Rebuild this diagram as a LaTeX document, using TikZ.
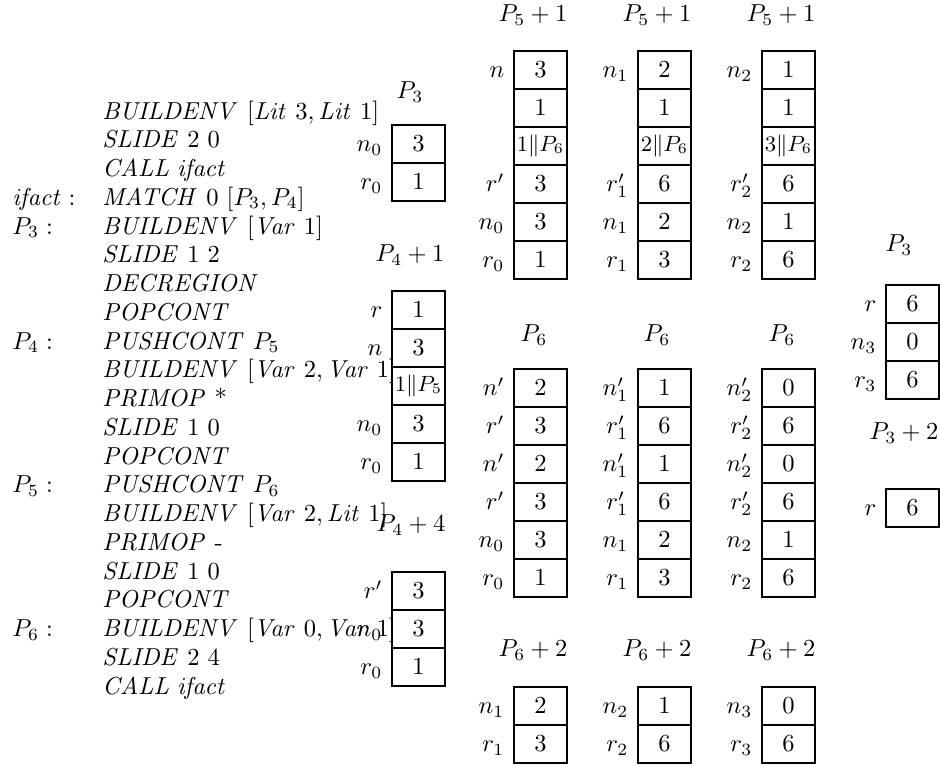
\documentclass[tikz,border=0pt]{standalone}
\usepackage{amsmath}

\tikzset{
  x=0.408pt, y=-0.408pt,
  cell/.style={draw, line width=0.8pt, minimum width=21.6pt, minimum height=15.5pt,
    inner sep=0pt, outer sep=0pt, anchor=north west},
  tag/.style={inner sep=0pt, anchor=base east},
  heading/.style={inner sep=0pt, anchor=center},
  code/.style={inner sep=0pt, anchor=base west},
}

% #1 name prefix, #2 left x, #3 top y, #4 list of label/value pairs (top to bottom)
\newcommand\memstack[4]{%
  \foreach [count=\k] \lab/\val in {#4} {
    \node[cell] (#1-\k) at (#2, {#3+38*(\k-1)}) {$\val$};
    \node[tag] (#1-l\k) at ([xshift=-3.7pt]#1-\k.base west) {$\lab$};
  }%
}

\begin{document}
\begin{tikzpicture}
\useasboundingbox (0,0) rectangle (940,765);

% ---- program listing ----
\node[code] (lbl4)  at (12,205.25) {$\mathit{ifact}:$};
\node[code] (lbl5)  at (12,234.0)  {$P_3:$};
\node[code] (lbl9)  at (12,349.0)  {$P_4:$};
\node[code] (lbl14) at (12,492.75) {$P_5:$};
\node[code] (lbl19) at (12,636.5)  {$P_6:$};

\node[code] (c1)  at (102,119.0)  {$\mathit{BUILDENV}\ [\mathit{Lit}\ 3, \mathit{Lit}\ 1]$};
\node[code] (c2)  at (102,147.75) {$\mathit{SLIDE}\ 2\ 0$};
\node[code] (c3)  at (102,176.5)  {$\mathit{CALL}\ \mathit{ifact}$};
\node[code] (c4)  at (102,205.25) {$\mathit{MATCH}\ 0\ [P_3, P_4]$};
\node[code] (c5)  at (102,234.0)  {$\mathit{BUILDENV}\ [\mathit{Var}\ 1]$};
\node[code] (c6)  at (102,262.75) {$\mathit{SLIDE}\ 1\ 2$};
\node[code] (c7)  at (102,291.5)  {$\mathit{DECREGION}$};
\node[code] (c8)  at (102,320.25) {$\mathit{POPCONT}$};
\node[code] (c9)  at (102,349.0)  {$\mathit{PUSHCONT}\ P_5$};
\node[code] (c10) at (102,377.75) {$\mathit{BUILDENV}\ [\mathit{Var}\ 2, \mathit{Var}\ 1]$};
\node[code] (c11) at (102,406.5)  {$\mathit{PRIMOP}$ *};
\node[code] (c12) at (102,435.25) {$\mathit{SLIDE}\ 1\ 0$};
\node[code] (c13) at (102,464.0)  {$\mathit{POPCONT}$};
\node[code] (c14) at (102,492.75) {$\mathit{PUSHCONT}\ P_6$};
\node[code] (c15) at (102,521.5)  {$\mathit{BUILDENV}\ [\mathit{Var}\ 2, \mathit{Lit}\ 1]$};
\node[code] (c16) at (102,550.25) {$\mathit{PRIMOP}$ -};
\node[code] (c17) at (102,579.0)  {$\mathit{SLIDE}\ 1\ 0$};
\node[code] (c18) at (102,607.75) {$\mathit{POPCONT}$};
\node[code] (c19) at (102,636.5)  {$\mathit{BUILDENV}\ [\mathit{Var}\ 0, \mathit{Var}\ 1]$};
\node[code] (c20) at (102,665.25) {$\mathit{SLIDE}\ 2\ 4$};
\node[code] (c21) at (102,694.0)  {$\mathit{CALL}\ \mathit{ifact}$};

% ---- stack snapshots beside the listing ----
\node[heading] (ta) at (410,92) {$P_3$};
\memstack{sa}{392}{125}{n_0/3, r_0/1}

\node[heading] (tb) at (410,255) {$P_4+1$};
\memstack{sb}{392}{291}{r/1, n/3, {}/\mbox{\small$1\|P_5$}, n_0/3, r_0/1}

\node[heading] (tc) at (411,525) {$P_4+4$};
\memstack{sc}{392}{572}{r'/3, n_0/3, r_0/1}

% ---- top row: P5+1 ----
\node[heading] (td1) at (533,15) {$P_5+1$};
\memstack{sd1}{514}{51}{n/3, {}/1, {}/\mbox{\small$1\|P_6$}, r'/3, n_0/3, r_0/1}
\node[heading] (td2) at (657,15) {$P_5+1$};
\memstack{sd2}{638}{51}{n_1/2, {}/1, {}/\mbox{\small$2\|P_6$}, r'_1/6, n_1/2, r_1/3}
\node[heading] (td3) at (781,15) {$P_5+1$};
\memstack{sd3}{762}{51}{n_2/1, {}/1, {}/\mbox{\small$3\|P_6$}, r'_2/6, n_2/1, r_2/6}

% ---- middle row: P6 ----
\node[heading] (te1) at (534,335) {$P_6$};
\memstack{se1}{514}{369}{n'/2, r'/3, n'/2, r'/3, n_0/3, r_0/1}
\node[heading] (te2) at (657,335) {$P_6$};
\memstack{se2}{638}{369}{n'_1/1, r'_1/6, n'_1/1, r'_1/6, n_1/2, r_1/3}
\node[heading] (te3) at (782,335) {$P_6$};
\memstack{se3}{762}{369}{n'_2/0, r'_2/6, n'_2/0, r'_2/6, n_2/1, r_2/6}

% ---- bottom row: P6+2 ----
\node[heading] (tf1) at (533,650) {$P_6+2$};
\memstack{sf1}{514}{687}{n_1/2, r_1/3}
\node[heading] (tf2) at (657,650) {$P_6+2$};
\memstack{sf2}{638}{687}{n_2/1, r_2/6}
\node[heading] (tf3) at (781,650) {$P_6+2$};
\memstack{sf3}{762}{687}{n_3/0, r_3/6}

% ---- right column ----
\node[heading] (tg) at (899,245) {$P_3$};
\memstack{sg}{886}{285}{r/6, n_3/0, r_3/6}
\node[heading] (th) at (904,433) {$P_3+2$};
\memstack{sh}{886}{489}{r/6}

\end{tikzpicture}
\end{document}
